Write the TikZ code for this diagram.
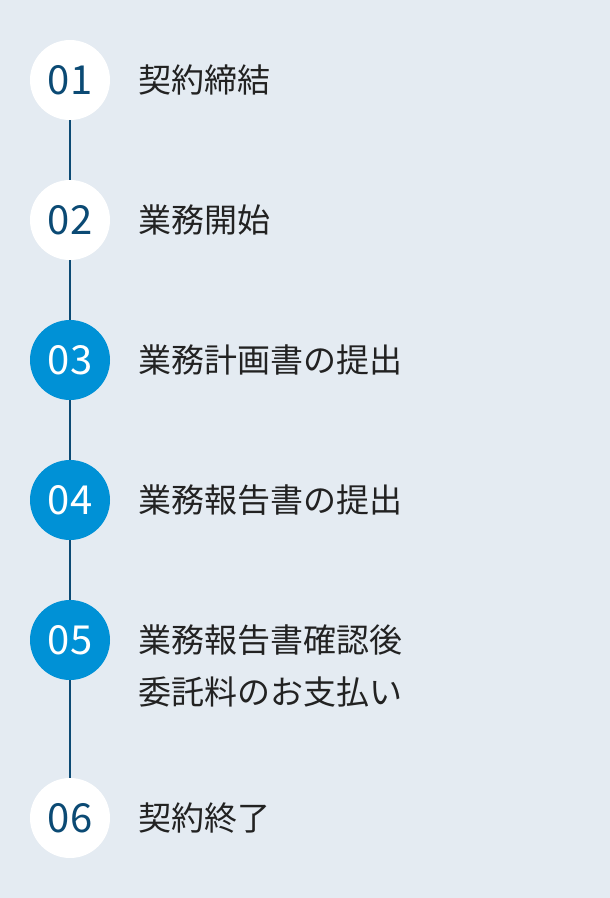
\documentclass[tikz,border=0pt]{standalone}
\usepackage{fontspec}
\setmainfont{Noto Sans CJK JP}
\usetikzlibrary{positioning}
\definecolor{bgcol}{HTML}{E4EBF2}
\definecolor{stepblue}{HTML}{0091D6}
\definecolor{darkblue}{HTML}{0B4A74}
\definecolor{textcol}{HTML}{222222}
\tikzset{
  stepdone/.style={circle, fill=white, minimum size=80pt, inner sep=0pt, text=darkblue, font=\fontsize{40}{40}\selectfont},
  stepnow/.style={circle, fill=stepblue, minimum size=80pt, inner sep=0pt, text=white, font=\fontsize{40}{40}\selectfont},
  steplabel/.style={anchor=west, inner sep=0pt, text=textcol, align=left, font=\fontsize{33}{52}\selectfont}
}
\begin{document}
\begin{tikzpicture}[x=1pt, y=-1pt]
  \fill[bgcol] (0,0) rectangle (610,898);
  \useasboundingbox (0,0) rectangle (610,898);

  % Circles
  \node[stepdone] (s1) at (70,80) {01};
  \node[stepdone] (s2) at (70,220) {02};
  \node[stepnow] (s3) at (70,360) {03};
  \node[stepnow] (s4) at (70,500) {04};
  \node[stepnow] (s5) at (70,640) {05};
  \node[stepdone] (s6) at (70,818) {06};

  % Lines
  \foreach \a/\b in {s1/s2, s2/s3, s3/s4, s4/s5, s5/s6}
    \draw[darkblue, line width=1.5pt] (\a.south) -- (\b.north);

  % Labels
  \node[steplabel] (t1) at (138,80) {契約締結};
  \node[steplabel] (t2) at (138,220) {業務開始};
  \node[steplabel] (t3) at (138,360) {業務計画書の提出};
  \node[steplabel] (t4) at (138,500) {業務報告書の提出};
  \node[steplabel] (t5) at (138,666) {業務報告書確認後\\委託料のお支払い};
  \node[steplabel] (t6) at (138,818) {契約終了};
\end{tikzpicture}
\end{document}
